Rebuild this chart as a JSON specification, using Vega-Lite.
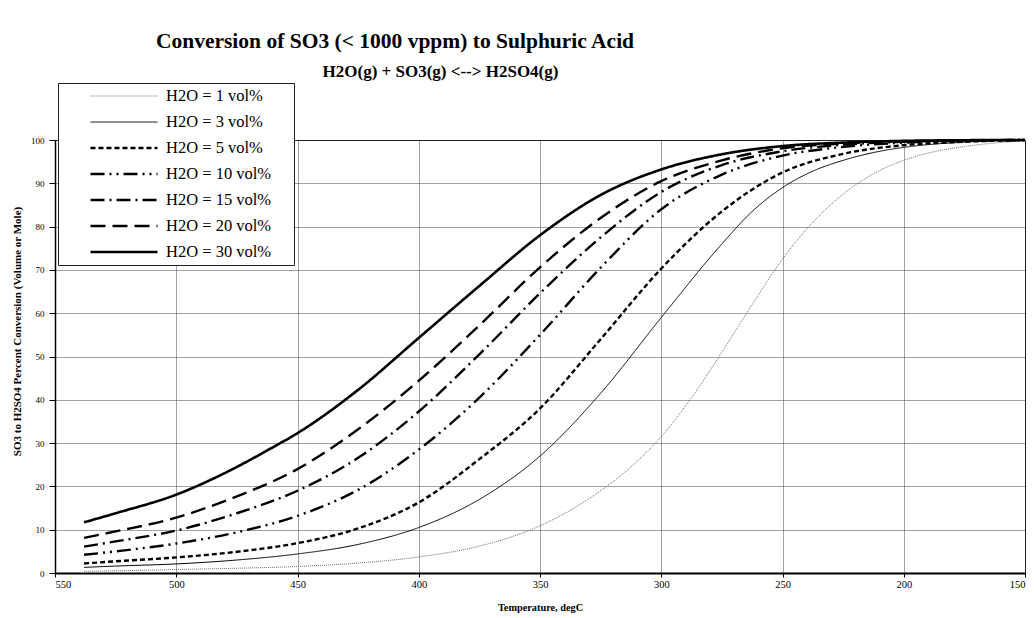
{
  "$schema": "https://vega.github.io/schema/vega-lite/v6.json",
  "autosize": {"type": "none"},
  "padding": {"left": 55, "top": 140, "right": 10, "bottom": 45},
  "width": 970,
  "height": 433,
  "background": "white",
  "title": {
    "text": "Conversion of SO3 (< 1000 vppm) to Sulphuric Acid",
    "font": "Liberation Serif",
    "fontSize": 21.5,
    "fontWeight": "bold",
    "color": "black",
    "anchor": "middle",
    "frame": "group",
    "dx": -145,
    "offset": 10
  },
  "config": {
    "view": {"stroke": "black", "strokeWidth": 1},
    "axis": {
      "labelFont": "Liberation Serif",
      "labelColor": "black",
      "titleFont": "Liberation Serif",
      "titleFontWeight": "bold",
      "titleColor": "black",
      "domainColor": "black",
      "tickColor": "black",
      "gridColor": "#444",
      "gridDash": [1, 1],
      "gridWidth": 1,
      "gridOpacity": 1
    }
  },
  "data": {
    "values": [
      {"T": 538, "v": 0.4, "s": "H2O = 1 vol%"},
      {"T": 525, "v": 0.5, "s": "H2O = 1 vol%"},
      {"T": 500, "v": 0.8, "s": "H2O = 1 vol%"},
      {"T": 475, "v": 1.1, "s": "H2O = 1 vol%"},
      {"T": 450, "v": 1.5, "s": "H2O = 1 vol%"},
      {"T": 425, "v": 2.3, "s": "H2O = 1 vol%"},
      {"T": 400, "v": 3.7, "s": "H2O = 1 vol%"},
      {"T": 375, "v": 6.2, "s": "H2O = 1 vol%"},
      {"T": 362.5, "v": 8.2, "s": "H2O = 1 vol%"},
      {"T": 350, "v": 10.9, "s": "H2O = 1 vol%"},
      {"T": 337.5, "v": 14.5, "s": "H2O = 1 vol%"},
      {"T": 325, "v": 19, "s": "H2O = 1 vol%"},
      {"T": 312.5, "v": 24.5, "s": "H2O = 1 vol%"},
      {"T": 300, "v": 31.5, "s": "H2O = 1 vol%"},
      {"T": 287.5, "v": 40.5, "s": "H2O = 1 vol%"},
      {"T": 275, "v": 51, "s": "H2O = 1 vol%"},
      {"T": 262.5, "v": 62, "s": "H2O = 1 vol%"},
      {"T": 250, "v": 72.5, "s": "H2O = 1 vol%"},
      {"T": 237.5, "v": 81, "s": "H2O = 1 vol%"},
      {"T": 225, "v": 87.5, "s": "H2O = 1 vol%"},
      {"T": 212.5, "v": 92.2, "s": "H2O = 1 vol%"},
      {"T": 200, "v": 95.3, "s": "H2O = 1 vol%"},
      {"T": 187.5, "v": 97.3, "s": "H2O = 1 vol%"},
      {"T": 175, "v": 98.5, "s": "H2O = 1 vol%"},
      {"T": 162.5, "v": 99.3, "s": "H2O = 1 vol%"},
      {"T": 150, "v": 99.8, "s": "H2O = 1 vol%"},

      {"T": 538, "v": 1.3, "s": "H2O = 3 vol%"},
      {"T": 525, "v": 1.6, "s": "H2O = 3 vol%"},
      {"T": 500, "v": 2.1, "s": "H2O = 3 vol%"},
      {"T": 475, "v": 3.0, "s": "H2O = 3 vol%"},
      {"T": 450, "v": 4.4, "s": "H2O = 3 vol%"},
      {"T": 425, "v": 6.6, "s": "H2O = 3 vol%"},
      {"T": 400, "v": 10.5, "s": "H2O = 3 vol%"},
      {"T": 375, "v": 17, "s": "H2O = 3 vol%"},
      {"T": 350, "v": 27, "s": "H2O = 3 vol%"},
      {"T": 325, "v": 41.5, "s": "H2O = 3 vol%"},
      {"T": 300, "v": 59, "s": "H2O = 3 vol%"},
      {"T": 275, "v": 76, "s": "H2O = 3 vol%"},
      {"T": 262.5, "v": 83.5, "s": "H2O = 3 vol%"},
      {"T": 250, "v": 89, "s": "H2O = 3 vol%"},
      {"T": 237.5, "v": 92.8, "s": "H2O = 3 vol%"},
      {"T": 225, "v": 95.3, "s": "H2O = 3 vol%"},
      {"T": 212.5, "v": 97.1, "s": "H2O = 3 vol%"},
      {"T": 200, "v": 98.3, "s": "H2O = 3 vol%"},
      {"T": 175, "v": 99.5, "s": "H2O = 3 vol%"},
      {"T": 150, "v": 100, "s": "H2O = 3 vol%"},

      {"T": 538, "v": 2.2, "s": "H2O = 5 vol%"},
      {"T": 525, "v": 2.7, "s": "H2O = 5 vol%"},
      {"T": 500, "v": 3.6, "s": "H2O = 5 vol%"},
      {"T": 475, "v": 4.9, "s": "H2O = 5 vol%"},
      {"T": 450, "v": 6.9, "s": "H2O = 5 vol%"},
      {"T": 425, "v": 10.3, "s": "H2O = 5 vol%"},
      {"T": 400, "v": 16.3, "s": "H2O = 5 vol%"},
      {"T": 375, "v": 26.3, "s": "H2O = 5 vol%"},
      {"T": 350, "v": 38, "s": "H2O = 5 vol%"},
      {"T": 325, "v": 54, "s": "H2O = 5 vol%"},
      {"T": 300, "v": 70.3, "s": "H2O = 5 vol%"},
      {"T": 275, "v": 83.5, "s": "H2O = 5 vol%"},
      {"T": 250, "v": 92.5, "s": "H2O = 5 vol%"},
      {"T": 225, "v": 96.8, "s": "H2O = 5 vol%"},
      {"T": 200, "v": 98.8, "s": "H2O = 5 vol%"},
      {"T": 175, "v": 99.6, "s": "H2O = 5 vol%"},
      {"T": 150, "v": 100, "s": "H2O = 5 vol%"},

      {"T": 538, "v": 4.2, "s": "H2O = 10 vol%"},
      {"T": 525, "v": 5.0, "s": "H2O = 10 vol%"},
      {"T": 500, "v": 6.8, "s": "H2O = 10 vol%"},
      {"T": 475, "v": 9.4, "s": "H2O = 10 vol%"},
      {"T": 450, "v": 13.2, "s": "H2O = 10 vol%"},
      {"T": 425, "v": 19.2, "s": "H2O = 10 vol%"},
      {"T": 400, "v": 28.5, "s": "H2O = 10 vol%"},
      {"T": 375, "v": 40.5, "s": "H2O = 10 vol%"},
      {"T": 350, "v": 55, "s": "H2O = 10 vol%"},
      {"T": 325, "v": 70.5, "s": "H2O = 10 vol%"},
      {"T": 300, "v": 84, "s": "H2O = 10 vol%"},
      {"T": 275, "v": 92, "s": "H2O = 10 vol%"},
      {"T": 250, "v": 96.4, "s": "H2O = 10 vol%"},
      {"T": 225, "v": 98.4, "s": "H2O = 10 vol%"},
      {"T": 200, "v": 99.4, "s": "H2O = 10 vol%"},
      {"T": 175, "v": 99.8, "s": "H2O = 10 vol%"},
      {"T": 150, "v": 100, "s": "H2O = 10 vol%"},

      {"T": 538, "v": 6.1, "s": "H2O = 15 vol%"},
      {"T": 525, "v": 7.3, "s": "H2O = 15 vol%"},
      {"T": 500, "v": 9.8, "s": "H2O = 15 vol%"},
      {"T": 475, "v": 13.8, "s": "H2O = 15 vol%"},
      {"T": 450, "v": 19.0, "s": "H2O = 15 vol%"},
      {"T": 425, "v": 26.6, "s": "H2O = 15 vol%"},
      {"T": 400, "v": 37.3, "s": "H2O = 15 vol%"},
      {"T": 375, "v": 50.5, "s": "H2O = 15 vol%"},
      {"T": 350, "v": 64.6, "s": "H2O = 15 vol%"},
      {"T": 325, "v": 77.5, "s": "H2O = 15 vol%"},
      {"T": 300, "v": 88, "s": "H2O = 15 vol%"},
      {"T": 275, "v": 94.2, "s": "H2O = 15 vol%"},
      {"T": 250, "v": 97.4, "s": "H2O = 15 vol%"},
      {"T": 225, "v": 98.9, "s": "H2O = 15 vol%"},
      {"T": 200, "v": 99.6, "s": "H2O = 15 vol%"},
      {"T": 175, "v": 99.9, "s": "H2O = 15 vol%"},
      {"T": 150, "v": 100, "s": "H2O = 15 vol%"},

      {"T": 538, "v": 8.1, "s": "H2O = 20 vol%"},
      {"T": 525, "v": 9.6, "s": "H2O = 20 vol%"},
      {"T": 500, "v": 12.8, "s": "H2O = 20 vol%"},
      {"T": 475, "v": 17.7, "s": "H2O = 20 vol%"},
      {"T": 450, "v": 24.0, "s": "H2O = 20 vol%"},
      {"T": 425, "v": 33.2, "s": "H2O = 20 vol%"},
      {"T": 400, "v": 44.4, "s": "H2O = 20 vol%"},
      {"T": 375, "v": 57.2, "s": "H2O = 20 vol%"},
      {"T": 350, "v": 70.6, "s": "H2O = 20 vol%"},
      {"T": 325, "v": 82, "s": "H2O = 20 vol%"},
      {"T": 300, "v": 90.5, "s": "H2O = 20 vol%"},
      {"T": 275, "v": 95.3, "s": "H2O = 20 vol%"},
      {"T": 250, "v": 98.1, "s": "H2O = 20 vol%"},
      {"T": 225, "v": 99.2, "s": "H2O = 20 vol%"},
      {"T": 200, "v": 99.7, "s": "H2O = 20 vol%"},
      {"T": 175, "v": 99.9, "s": "H2O = 20 vol%"},
      {"T": 150, "v": 100, "s": "H2O = 20 vol%"},

      {"T": 538, "v": 11.7, "s": "H2O = 30 vol%"},
      {"T": 525, "v": 13.8, "s": "H2O = 30 vol%"},
      {"T": 500, "v": 18.1, "s": "H2O = 30 vol%"},
      {"T": 475, "v": 24.5, "s": "H2O = 30 vol%"},
      {"T": 462.5, "v": 28.3, "s": "H2O = 30 vol%"},
      {"T": 450, "v": 32.3, "s": "H2O = 30 vol%"},
      {"T": 425, "v": 42.3, "s": "H2O = 30 vol%"},
      {"T": 400, "v": 54.3, "s": "H2O = 30 vol%"},
      {"T": 375, "v": 66.3, "s": "H2O = 30 vol%"},
      {"T": 350, "v": 78, "s": "H2O = 30 vol%"},
      {"T": 325, "v": 87.3, "s": "H2O = 30 vol%"},
      {"T": 300, "v": 93.2, "s": "H2O = 30 vol%"},
      {"T": 275, "v": 96.7, "s": "H2O = 30 vol%"},
      {"T": 250, "v": 98.6, "s": "H2O = 30 vol%"},
      {"T": 225, "v": 99.4, "s": "H2O = 30 vol%"},
      {"T": 200, "v": 99.8, "s": "H2O = 30 vol%"},
      {"T": 175, "v": 99.95, "s": "H2O = 30 vol%"},
      {"T": 150, "v": 100, "s": "H2O = 30 vol%"}
    ]
  },
  "resolve": {"axis": {"x": "independent"}},
  "layer": [
    {
      "mark": {"type": "line", "interpolate": "monotone"},
      "encoding": {
        "x": {
          "field": "T",
          "type": "quantitative",
          "scale": {"domain": [150, 550], "reverse": true, "nice": false, "zero": false},
          "axis": {
            "title": "Temperature, degC",
            "values": [150, 200, 250, 300, 350, 400, 450, 500, 550],
            "format": "d",
            "labelFontSize": 10.5,
            "titleFontSize": 10.3,
            "tickSize": 4,
            "labelPadding": 2,
            "titlePadding": 13,
            "domainWidth": 2
          }
        },
        "y": {
          "field": "v",
          "type": "quantitative",
          "scale": {"domain": [0, 100], "nice": false},
          "axis": {
            "title": "SO3 to H2SO4 Percent Conversion (Volume or Mole)",
            "values": [0, 10, 20, 30, 40, 50, 60, 70, 80, 90, 100],
            "labelFontSize": 9,
            "titleFontSize": 11,
            "titleY": 191,
            "tickSize": 6,
            "labelPadding": 5,
            "titlePadding": 8,
            "domainWidth": 1.5
          }
        },
        "color": {
          "field": "s",
          "type": "nominal",
          "sort": null,
          "scale": {
            "domain": ["H2O = 1 vol%", "H2O = 3 vol%", "H2O = 5 vol%", "H2O = 10 vol%", "H2O = 15 vol%", "H2O = 20 vol%", "H2O = 30 vol%"],
            "range": ["#6e6e6e", "black", "black", "black", "black", "black", "black"]
          },
          "legend": {
            "title": " ",
            "titleOrient": "right",
            "titlePadding": 23,
            "titleFontSize": 10,
            "orient": "none",
            "legendX": 3,
            "legendY": -57,
            "symbolType": "stroke",
            "symbolSize": 4489,
            "clipHeight": 26,
            "rowPadding": 0,
            "padding": 0,
            "symbolOffset": 31,
            "labelOffset": 7,
            "labelFont": "Liberation Serif",
            "labelFontSize": 16.5,
            "labelColor": "black",
            "labelLimit": 400,
            "fillColor": "white",
            "strokeColor": "#222222"
          }
        },
        "strokeDash": {
          "field": "s",
          "type": "nominal",
          "sort": null,
          "scale": {
            "domain": ["H2O = 1 vol%", "H2O = 3 vol%", "H2O = 5 vol%", "H2O = 10 vol%", "H2O = 15 vol%", "H2O = 20 vol%", "H2O = 30 vol%"],
            "range": [[1, 1], [1, 0], [5, 3], [14, 5, 2, 5, 2, 5], [14, 5, 2, 5], [15, 7], [1, 0]]
          }
        },
        "strokeWidth": {
          "field": "s",
          "type": "nominal",
          "sort": null,
          "scale": {
            "type": "ordinal",
            "domain": ["H2O = 1 vol%", "H2O = 3 vol%", "H2O = 5 vol%", "H2O = 10 vol%", "H2O = 15 vol%", "H2O = 20 vol%", "H2O = 30 vol%"],
            "range": [1, 1, 2.4, 2.4, 2.4, 2.4, 2.6]
          }
        }
      }
    },
    {
      "mark": {"type": "point", "opacity": 0},
      "encoding": {
        "x": {
          "field": "T",
          "type": "quantitative",
          "axis": {
            "orient": "top",
            "title": "H2O(g) + SO3(g) <--> H2SO4(g)",
            "labels": false,
            "ticks": false,
            "domain": false,
            "grid": false,
            "titleFontSize": 17,
            "titleX": 385,
            "titleY": -64,
            "titleAlign": "center",
            "titleBaseline": "alphabetic"
          }
        }
      }
    }
  ]
}
